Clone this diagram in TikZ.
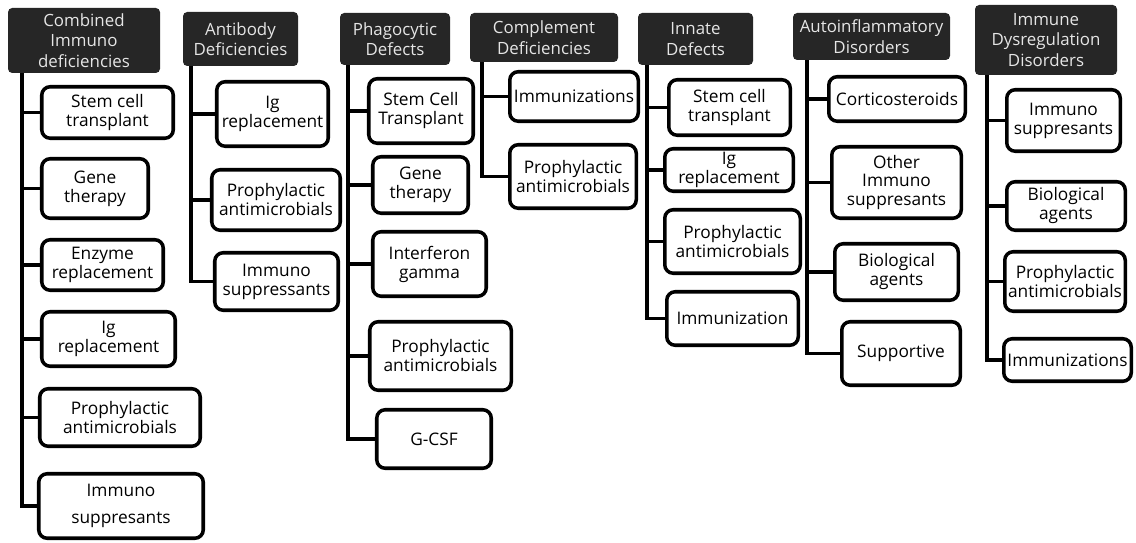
\documentclass[tikz,border=0pt]{standalone}
\usepackage{fontspec}
\setmainfont{Open Sans}
\definecolor{hdr}{HTML}{262626}

\begin{document}
\begin{tikzpicture}[x=0.025cm, y=-0.025cm,
  head/.style 2 args={fill=hdr, text=white!90!black, rounded corners=3pt, align=center,
    inner sep=0pt, minimum width=#1*0.025cm, minimum height=#2*0.025cm,
    font=\fontsize{12}{14.5}\selectfont},
  leaf/.style 2 args={draw, line width=2.5pt, rounded corners=6pt, align=center,
    inner sep=0pt, minimum width=(#1-3.5)*0.025cm, minimum height=(#2-3.5)*0.025cm,
    font=\fontsize{12.3}{13.5}\selectfont},
  trunk/.style={line width=2.8pt}]
  \useasboundingbox (0,0) rectangle (1136,543);

  % Combined immunodeficiencies
  \node[head={152}{65}] (cid) at (84,40.5) {Combined\\Immuno\\deficiencies};
  \node[leaf={135}{55}] (c1) at (107.5,112.5) {Stem cell\\transplant};
  \node[leaf={110}{63}] (c2) at (95,188.5) {Gene\\therapy};
  \node[leaf={125}{54}] (c3) at (102.5,265) {Enzyme\\replacement};
  \node[leaf={137}{58}] (c4) at (108.5,339) {Ig\\replacement};
  \node[leaf={164}{61}] (c5) at (120,417.5) {Prophylactic\\antimicrobials};
  \node[leaf={168}{68}] (c6) at (121,506) {Immuno\\[6pt]suppresants};
  \coordinate (cid-t) at ([xshift=14*0.025cm]cid.south west);
  \foreach \k in {c1,c2,c3,c4,c5}
    \draw[trunk] (cid-t |- \k.west) -- (\k.west);
  \draw[trunk] (cid-t) |- (c6.west);

  % Antibody deficiencies
  \node[head={115}{54}] (ad) at (240.5,39) {Antibody\\Deficiencies};
  \node[leaf={115}{68}] (a1) at (272.5,114) {Ig\\replacement};
  \node[leaf={132}{64}] (a2) at (276,200) {Prophylactic\\antimicrobials};
  \node[leaf={127}{61}] (a3) at (276.5,281.5) {Immuno\\suppressants};
  \coordinate (ad-t) at ([xshift=8*0.025cm]ad.south west);
  \foreach \k in {a1,a2}
    \draw[trunk] (ad-t |- \k.west) -- (\k.west);
  \draw[trunk] (ad-t) |- (a3.west);

  % Phagocytic defects
  \node[head={110}{52}] (pd) at (395,39) {Phagocytic\\Defects};
  \node[leaf={108}{68}] (p1) at (421,111) {Stem Cell\\Transplant};
  \node[leaf={99}{60}] (p2) at (420.5,185) {Gene\\therapy};
  \node[leaf={117}{68}] (p3) at (429.5,264) {Interferon\\gamma};
  \node[leaf={145}{72}] (p4) at (440.5,356) {Prophylactic\\antimicrobials};
  \node[leaf={118}{62}] (p5) at (434,439) {G-CSF};
  \coordinate (pd-t) at ([xshift=8*0.025cm]pd.south west);
  \foreach \k in {p1,p2,p3,p4}
    \draw[trunk] (pd-t |- \k.west) -- (\k.west);
  \draw[trunk] (pd-t) |- (p5.west);

  % Complement deficiencies
  \node[head={148}{49}] (cd) at (544,37.5) {Complement\\Deficiencies};
  \node[leaf={132}{53}] (m1) at (574,96.5) {Immunizations};
  \node[leaf={130}{67}] (m2) at (573,176.5) {Prophylactic\\antimicrobials};
  \coordinate (cd-t) at ([xshift=12*0.025cm]cd.south west);
  \draw[trunk] (cd-t |- m1.west) -- (m1.west);
  \draw[trunk] (cd-t) |- (m2.west);

  % Innate defects
  \node[head={115}{52}] (id) at (695.5,39) {Innate\\Defects};
  \node[leaf={125}{59}] (n1) at (729.5,107.5) {Stem cell\\transplant};
  \node[leaf={132}{46}] (n2) at (729,170) {Ig\\replacement};
  \node[leaf={139}{67}] (n3) at (732.5,241.5) {Prophylactic\\antimicrobials};
  \node[leaf={135}{57}] (n4) at (732.5,318.5) {Immunization};
  \coordinate (id-t) at ([xshift=9*0.025cm]id.south west);
  \foreach \k in {n1,n2,n3}
    \draw[trunk] (id-t |- \k.west) -- (\k.west);
  \draw[trunk] (id-t) |- (n4.west);

  % Autoinflammatory disorders
  \node[head={157}{47}] (ai) at (871.5,36.5) {Autoinflammatory\\Disorders};
  \node[leaf={140}{48}] (f1) at (897,99) {Corticosteroids};
  \node[leaf={133}{75}] (f2) at (896.5,182.5) {Other\\Immuno\\suppresants};
  \node[leaf={127}{60}] (f3) at (896.5,272) {Biological\\agents};
  \node[leaf={122}{67}] (f4) at (901,353.5) {Supportive};
  \coordinate (ai-t) at ([xshift=14*0.025cm]ai.south west);
  \foreach \k in {f1,f2,f3}
    \draw[trunk] (ai-t |- \k.west) -- (\k.west);
  \draw[trunk] (ai-t) |- (f4.west);

  % Immune dysregulation disorders
  \node[head={142}{70}] (dd) at (1046,40) {Immune\\Dysregulation\\Disorders};
  \node[leaf={117}{65}] (g1) at (1063.5,120.5) {Immuno\\suppresants};
  \node[leaf={122}{52}] (g2) at (1066,206) {Biological\\agents};
  \node[leaf={124}{63}] (g3) at (1065,281.5) {Prophylactic\\antimicrobials};
  \node[leaf={131}{46}] (g4) at (1067.5,360) {Immunizations};
  \coordinate (dd-t) at ([xshift=12*0.025cm]dd.south west);
  \foreach \k in {g1,g2,g3}
    \draw[trunk] (dd-t |- \k.west) -- (\k.west);
  \draw[trunk] (dd-t) |- (g4.west);
\end{tikzpicture}
\end{document}
